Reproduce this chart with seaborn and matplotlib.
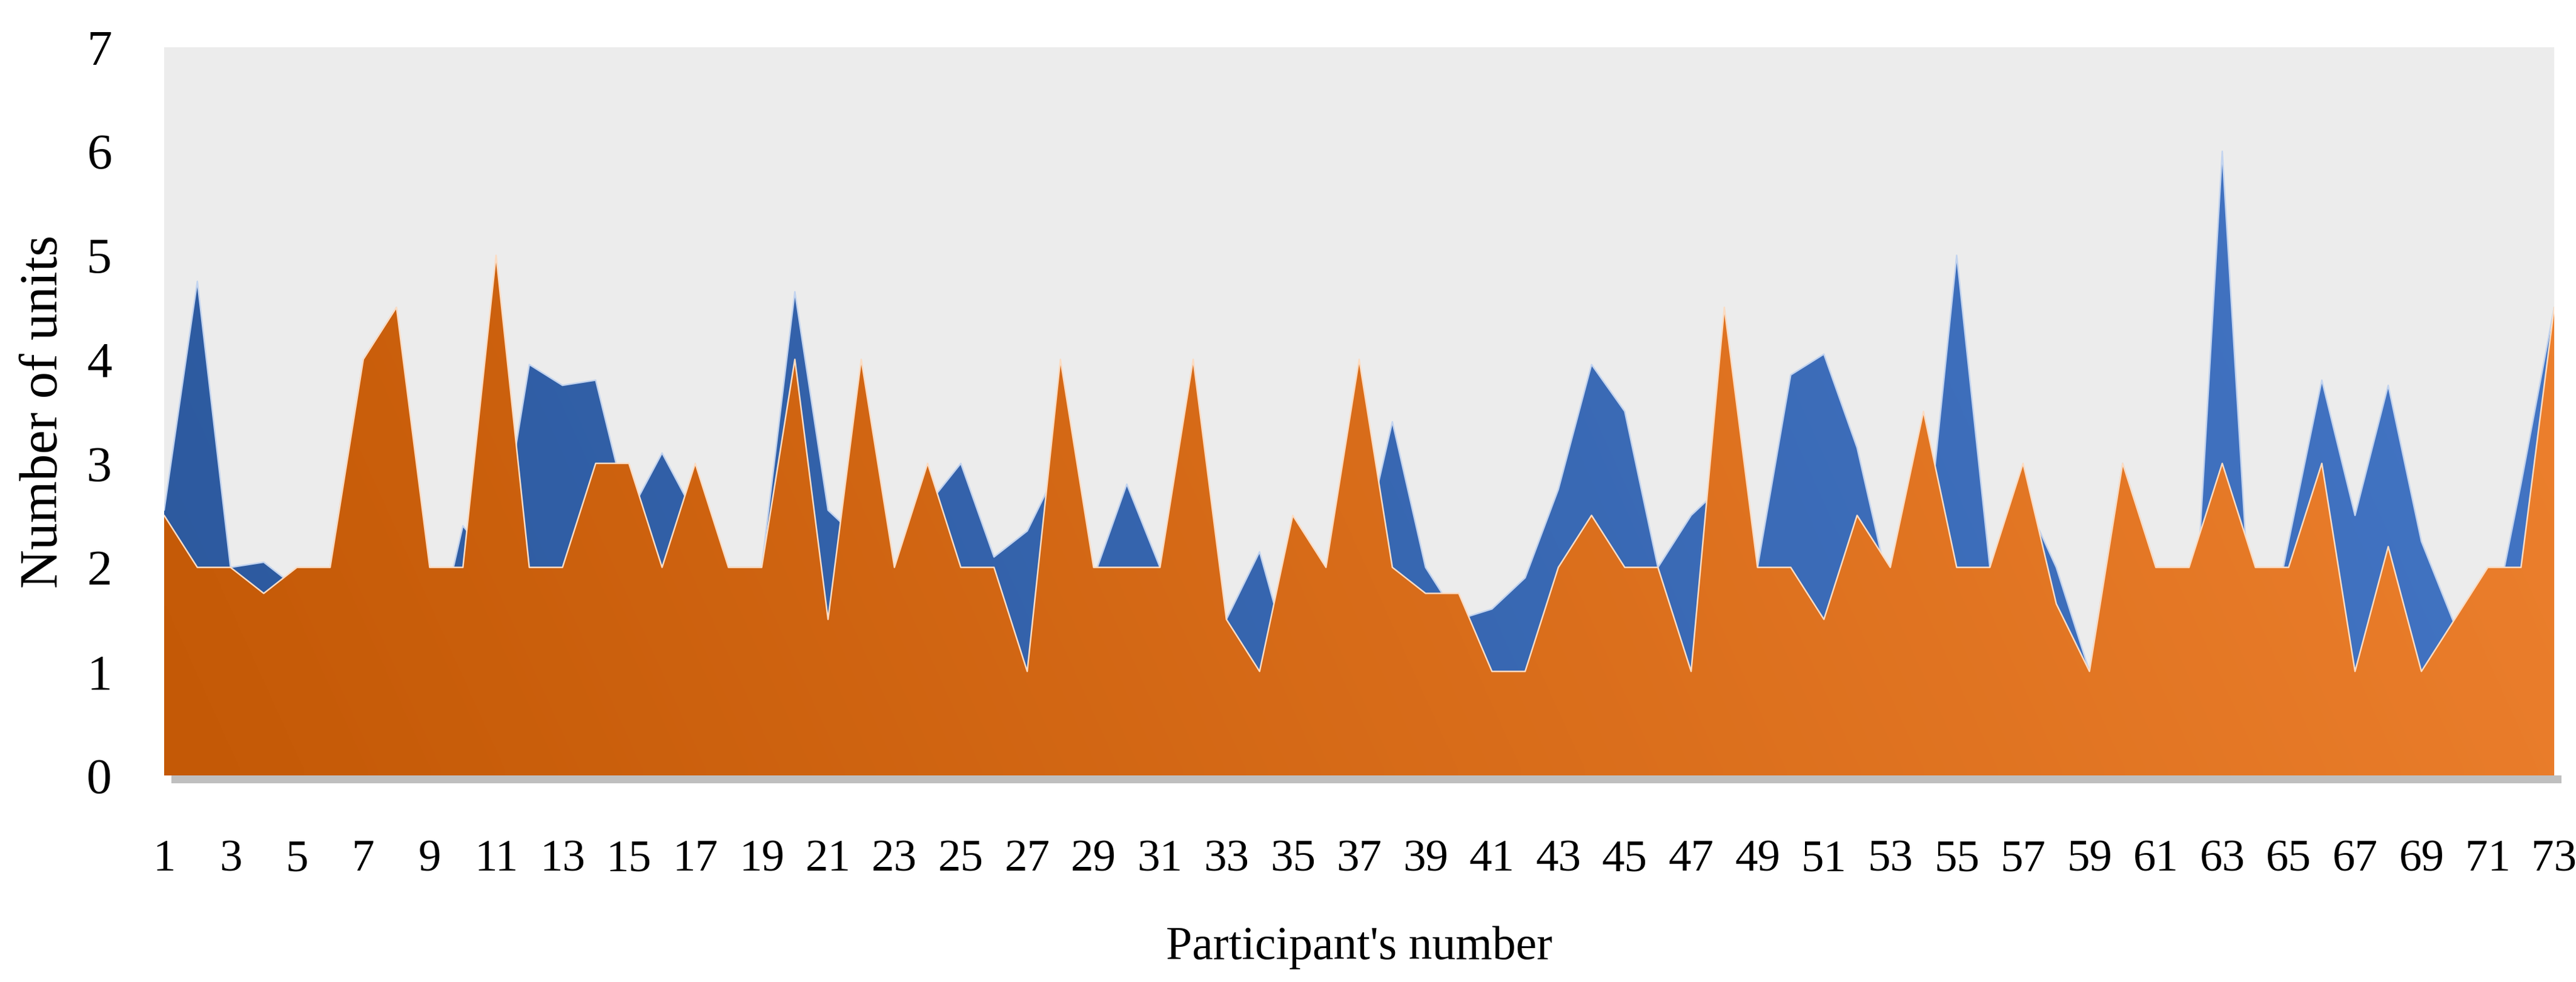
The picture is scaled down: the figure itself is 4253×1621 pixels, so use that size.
import numpy as np
import pandas as pd
import matplotlib
matplotlib.use("Agg")
import matplotlib.pyplot as plt
import seaborn as sns
from matplotlib.colors import LinearSegmentedColormap
from matplotlib.patches import Rectangle

# ---------------- data ----------------
participants = list(range(1, 74))

series_blue = [2.55, 4.75, 2, 2.05, 1.8, 2, 4, 4.5, 1, 2.4,
               2, 3.95, 3.75, 3.8, 2.5, 3.1, 2.5, 2, 2, 4.65,
               2.55, 2.25, 2, 2.6, 3, 2.1, 2.35, 3, 1.9, 2.8,
               2, 2, 1.5, 2.15, 1, 2, 2, 3.4, 2, 1.5,
               1.6, 1.9, 2.75, 3.95, 3.5, 2, 2.5, 2.8, 2, 3.85,
               4.05, 3.15, 1.75, 1.9, 5, 2, 2.7, 2, 1, 3,
               2, 0.5, 6, 0.7, 2.25, 3.8, 2.5, 3.75, 2.25, 1.45,
               1.2, 2.8, 4.5]

series_orange = [2.5, 2, 2, 1.75, 2, 2, 4, 4.5, 2, 2,
                 5, 2, 2, 3, 3, 2, 3, 2, 2, 4,
                 1.5, 4, 2, 3, 2, 2, 1, 4, 2, 2,
                 2, 4, 1.5, 1, 2.5, 2, 4, 2, 1.75, 1.75,
                 1, 1, 2, 2.5, 2, 2, 1, 4.5, 2, 2,
                 1.5, 2.5, 2, 3.5, 2, 2, 3, 1.65, 1, 3,
                 2, 2, 3, 2, 2, 3, 1, 2.2, 1, 1.5,
                 2, 2, 4.5]

x_ticks = list(range(1, 74, 2))
x_tick_labels = [str(v) for v in x_ticks]
y_ticks = list(range(0, 8))
y_tick_labels = [str(v) for v in y_ticks]

x_label = "Participant's number"
y_label = "Number of units"

# ---------------- style ----------------
sns.set_theme(style="white")
plt.rcParams["font.family"] = ["Liberation Serif", "DejaVu Serif"]

W, H = 4253, 1621
fig = plt.figure(figsize=(W / 100, H / 100), dpi=100)
fig.patch.set_facecolor("white")
ax = fig.add_axes([271 / W, (H - 1280) / H, (4217 - 271) / W, (1280 - 78) / H])
ax.set_facecolor("#ECECEC")

x_arr = np.array(participants, dtype=float)


def gradient_area(ax, x, y, c0, c1, z):
    poly = ax.fill_between(x, 0, y, facecolor="none", edgecolor="none", zorder=z)
    path = poly.get_paths()[0]
    gx = np.linspace(0, 1, 512)
    gy = np.linspace(0, 1, 64)
    Z = 0.88 * gx[None, :] + 0.12 * gy[:, None]
    cmap = LinearSegmentedColormap.from_list("grad", [c0, c1])
    im = ax.imshow(Z, extent=[x[0], x[-1], 0, 7], origin="lower", aspect="auto",
                   cmap=cmap, zorder=z, interpolation="bilinear")
    im.set_clip_path(path, ax.transData)


# blue series (behind)
gradient_area(ax, x_arr, np.array(series_blue), "#2C599E", "#4476C6", 1)
df_blue = pd.DataFrame({"participant": participants, "units": series_blue})
sns.lineplot(data=df_blue, x="participant", y="units", color="#C3D4EF",
             linewidth=1.8, ax=ax, zorder=1.5)

# orange series (front)
gradient_area(ax, x_arr, np.array(series_orange), "#C45906", "#EE812F", 2)
df_orange = pd.DataFrame({"participant": participants, "units": series_orange})
sns.lineplot(data=df_orange, x="participant", y="units", color="#FBDCC3",
             linewidth=1.8, ax=ax, zorder=2.5)

ax.set_xlim(1, 73)
ax.set_ylim(0, 7)

# shadow under the plot area
ax.add_patch(Rectangle((0.003, -0.011), 1.0, 0.011, transform=ax.transAxes,
                       facecolor="#BFBFBF", edgecolor="none", clip_on=False, zorder=0))

for s in ax.spines.values():
    s.set_visible(False)

ax.set_xticks(x_ticks)
ax.set_xticklabels(x_tick_labels, fontsize=54)
ax.set_yticks(y_ticks)
ax.set_yticklabels(y_tick_labels, fontsize=60)
ax.tick_params(axis="x", length=0, pad=76, colors="black")
ax.tick_params(axis="y", length=0, pad=62, colors="black")
ax.grid(False)

ax.set_xlabel(x_label, fontsize=56, labelpad=54, color="black")
ax.set_ylabel(y_label, fontsize=64, labelpad=22, color="black")

fig.savefig("out.png", dpi=100, facecolor="white")
